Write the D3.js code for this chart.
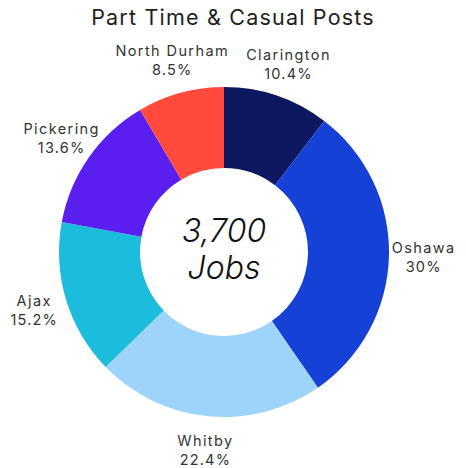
<!DOCTYPE html>
<html>
<head>
<meta charset="utf-8">
<script src="https://cdn.jsdelivr.net/npm/d3@7"></script>
<style>
  html, body { margin: 0; padding: 0; background: #ffffff; }
  svg { display: block; }
</style>
</head>
<body>
<svg id="chart" width="466" height="468"></svg>
<script>
const categories = ["Clarington", "Oshawa", "Whitby", "Ajax", "Pickering", "North Durham"];
const values = [10.4, 30, 22.4, 15.2, 13.6, 8.5];
const valueLabels = ["10.4%", "30%", "22.4%", "15.2%", "13.6%", "8.5%"];
const colors = ["#0e1860", "#1541d6", "#9fd4fa", "#1bbcdc", "#5a1eee", "#ff4a3c"];
const title = "Part Time & Casual Posts";
const centerLines = ["3,700", "Jobs"];

const svg = d3.select("#chart");
const font = "'Inter', 'Noto Sans', sans-serif";
const cx = 224, cy = 252, outerR = 165, innerR = 84, labelR = 199;

svg.append("text")
  .attr("x", 233).attr("y", 25)
  .attr("text-anchor", "middle")
  .attr("font-family", font)
  .attr("font-size", 21.5)
  .attr("letter-spacing", 1.2)
  .attr("fill", "#1e1e1e")
  .text(title);

const data = categories.map((c, i) => ({ name: c, value: values[i], label: valueLabels[i], color: colors[i] }));
const pie = d3.pie().value(d => d.value).sort(null);
const arc = d3.arc().innerRadius(innerR).outerRadius(outerR);
const labelArc = d3.arc().innerRadius(labelR).outerRadius(labelR);

const g = svg.append("g").attr("transform", `translate(${cx},${cy})`);
const arcs = pie(data);

g.selectAll("path").data(arcs).enter().append("path")
  .attr("d", arc)
  .attr("fill", d => d.data.color);

const lbl = g.selectAll("g.lbl").data(arcs).enter().append("g")
  .attr("class", "lbl")
  .attr("transform", d => { const c = labelArc.centroid(d); return `translate(${c[0] + 0.7},${c[1]})`; });
lbl.append("text")
  .attr("text-anchor", "middle")
  .attr("y", -4)
  .attr("font-family", font)
  .attr("font-size", 14.5)
  .attr("letter-spacing", 1.4)
  .attr("fill", "#333")
  .text(d => d.data.name);
lbl.append("text")
  .attr("text-anchor", "middle")
  .attr("y", 15)
  .attr("font-family", font)
  .attr("font-size", 14.5)
  .attr("letter-spacing", 1.2)
  .attr("fill", "#333")
  .text(d => d.data.label);

g.selectAll("text.center").data(centerLines).enter().append("text")
  .attr("class", "center")
  .attr("text-anchor", "middle")
  .attr("y", (d, i) => -10 + i * 37)
  .attr("font-family", font)
  .attr("font-style", "italic")
  .attr("font-weight", 300)
  .attr("font-size", 32)
  .attr("fill", "#111")
  .text(d => d);
</script>
</body>
</html>
